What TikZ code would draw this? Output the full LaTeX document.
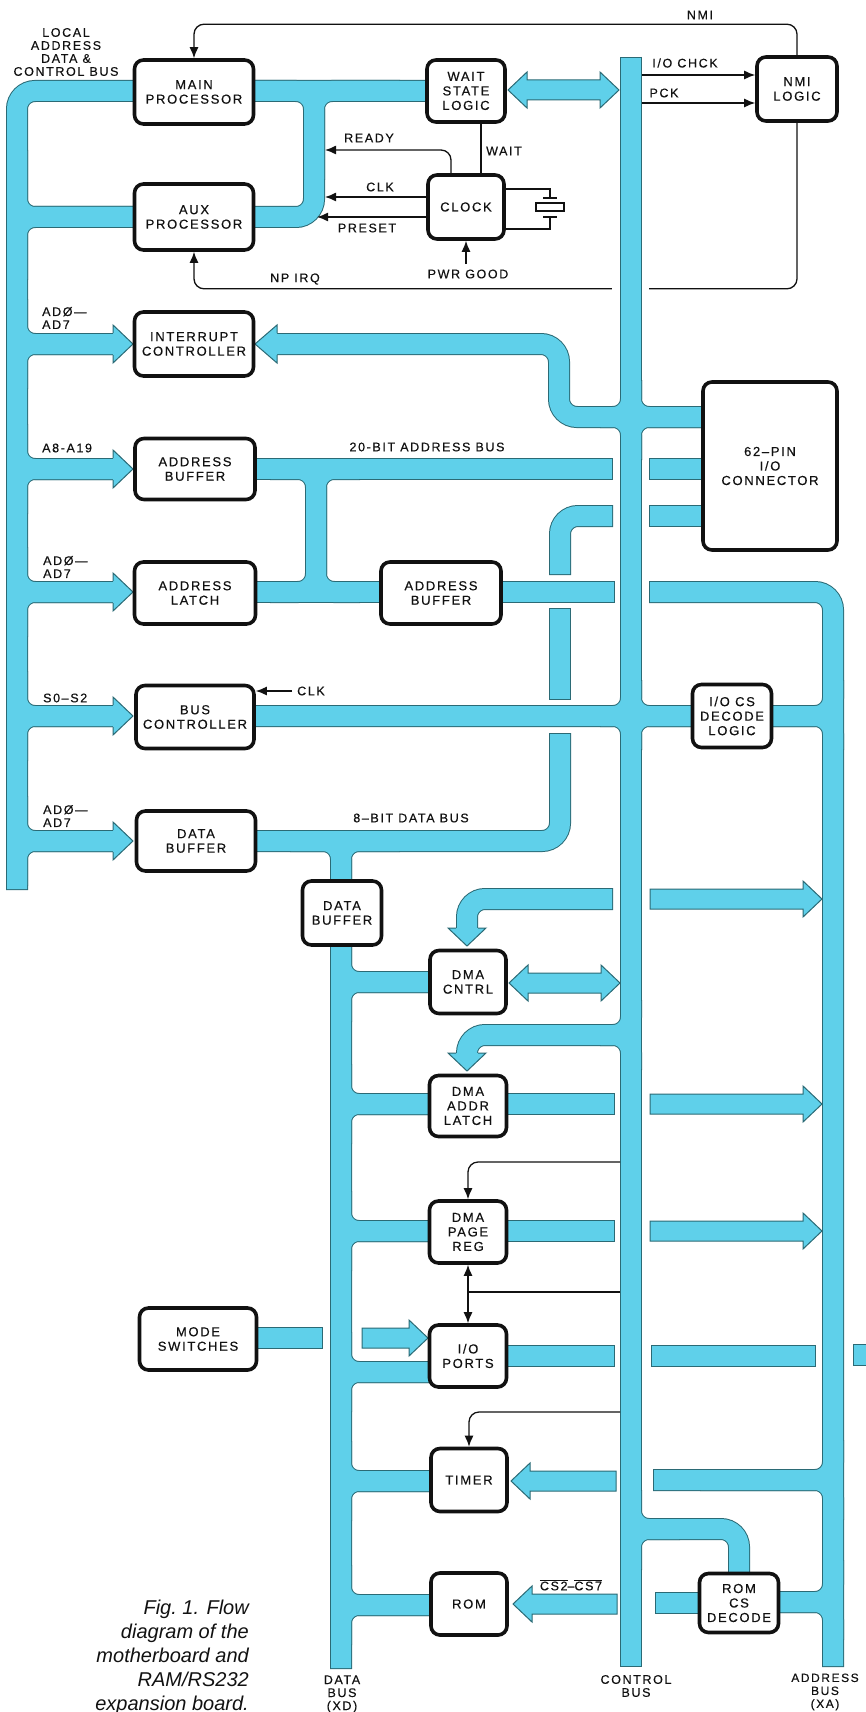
\documentclass[tikz,border=0pt]{standalone}
\usepackage{fontspec}
\setmainfont{Liberation Sans}[LetterSpace=13.0, FakeBold=0.4]
\newfontfamily\capfont{Liberation Sans}
\usetikzlibrary{arrows.meta}
\definecolor{bus}{HTML}{5FD0EA}
\definecolor{busedge}{HTML}{2B6A75}
\definecolor{ink}{HTML}{111111}
\pgfdeclarelayer{under}
\pgfdeclarelayer{bands}
\pgfsetlayers{under,bands,main}
\tikzset{
  unit/.style={draw=ink, line width=3.6pt, rounded corners=9pt, fill=white, align=center, inner sep=2pt, text=ink, font=\fontsize{13}{14.5}\selectfont},
  tag/.style={font=\fontsize{12.5}{13}\selectfont, inner sep=0pt, text=ink},
  bandedge/.style={draw=busedge, line width=22pt, rounded corners=18pt},
  bandfill/.style={draw=bus, line width=20pt, rounded corners=18pt, shorten <=1pt, shorten >=1pt},
  blockline/.style={draw=busedge, line width=1pt, line join=miter},
  sig/.style={draw=ink, line width=1.3pt, rounded corners=10pt, -{Latex[length=11pt,width=9pt]}},
  sigboth/.style={draw=ink, line width=1.3pt, {Latex[length=11pt,width=9pt]}-{Latex[length=11pt,width=9pt]}},
  wire/.style={draw=ink, line width=1.3pt},
  capt/.style={font=\capfont\itshape\fontsize{20}{24}\selectfont, align=right, inner sep=0pt, text=ink}
}
% block arrows: tail x, tip x, y
\newcommand\rblock[3]{\path[fill=bus, blockline] (#1,#3-10) -- (#2-19,#3-10) -- (#2-19,#3-18) -- (#2,#3) -- (#2-19,#3+18) -- (#2-19,#3+10) -- (#1,#3+10) -- cycle;}
\newcommand\lblock[3]{\path[fill=bus, blockline] (#1,#3-10) -- (#2+19,#3-10) -- (#2+19,#3-18) -- (#2,#3) -- (#2+19,#3+18) -- (#2+19,#3+10) -- (#1,#3+10) -- cycle;}
\newcommand\dblock[3]{\path[fill=bus, blockline] (#1,#3) -- (#1+19,#3-18) -- (#1+19,#3-10) -- (#2-19,#3-10) -- (#2-19,#3-18) -- (#2,#3) -- (#2-19,#3+18) -- (#2-19,#3+10) -- (#1+19,#3+10) -- (#1+19,#3+18) -- cycle;}
% heads at the end of a band: tip, then position across
\newcommand\rhead[2]{\fill[bus] (#1-20,#2-19) -- (#1,#2) -- (#1-20,#2+19) -- cycle;
  \draw[blockline] (#1-20,#2-11) -- (#1-20,#2-19) -- (#1,#2) -- (#1-20,#2+19) -- (#1-20,#2+11);}
\newcommand\lhead[2]{\fill[bus] (#1+22,#2-19) -- (#1,#2) -- (#1+22,#2+19) -- cycle;
  \draw[blockline] (#1+22,#2-11) -- (#1+22,#2-19) -- (#1,#2) -- (#1+22,#2+19) -- (#1+22,#2+11);}
\newcommand\dhead[2]{\fill[bus] (#1-19,#2-18) -- (#1,#2) -- (#1+19,#2-18) -- cycle;
  \draw[blockline] (#1-11,#2-18) -- (#1-19,#2-18) -- (#1,#2) -- (#1+19,#2-18) -- (#1+11,#2-18);}
% all bus bands, drawn once as edge and once as fill
\newcommand\bands[1]{%
  % local bus loop
  \draw[#1] (17,890) -- (17,91) -- (440,91);
  \draw[#1] (200,91) -- (314,91) -- (314,217) -- (200,217);
  \draw[#1] (314,180) -- (314,91) -- (400,91);
  \draw[#1] (17,150) -- (17,217) -- (150,217);
  \draw[#1] (17,280) -- (17,217) -- (150,217);
  \foreach \y in {344,469,592,716,841}{
    \draw[#1] (17,\y-45) -- (17,\y) -- (115,\y);
    \draw[#1] (17,\y+45) -- (17,\y) -- (115,\y);}
  % interrupt feed
  \draw[#1] (274,344) -- (559,344) -- (559,417) -- (631,417) -- (631,380);
  \draw[#1] (600,417) -- (631,417) -- (631,460);
  \draw[#1] (631,380) -- (631,417) -- (712,417);
  \draw[#1] (631,460) -- (631,417) -- (712,417);
  % control bus
  \draw[#1] (631,57) -- (631,1667);
  % address bus
  \draw[#1] (240,469) -- (613,469);
  \draw[#1] (270,469) -- (316,469) -- (316,592) -- (270,592);
  \draw[#1] (360,469) -- (316,469) -- (316,592) -- (360,592);
  \draw[#1] (240,592) -- (615,592);
  \draw[#1] (649,469) -- (712,469);
  % data bus up to the connector
  \draw[#1] (613,516) -- (560,516) -- (560,575);
  \draw[#1] (649,516) -- (712,516);
  \draw[#1] (560,608) -- (560,700);
  \draw[#1] (560,733) -- (560,841) -- (240,841);
  % bus controller outputs
  \draw[#1] (240,716) -- (631,716) -- (631,680);
  \draw[#1] (600,716) -- (631,716) -- (631,750);
  \draw[#1] (631,680) -- (631,716) -- (700,716);
  \draw[#1] (631,750) -- (631,716) -- (700,716);
  \draw[#1] (760,716) -- (833,716) -- (833,680);
  \draw[#1] (760,716) -- (833,716) -- (833,750);
  % XA
  \draw[#1] (649,592) -- (833,592) -- (833,1667);
  % XD
  \draw[#1] (290,841) -- (341,841) -- (341,1669);
  \draw[#1] (400,841) -- (341,841) -- (341,900);
  \foreach \y in {982,1104,1231,1372,1481,1605}{
    \draw[#1] (341,\y-40) -- (341,\y) -- (440,\y);
    \draw[#1] (341,\y+40) -- (341,\y) -- (440,\y);}
  % DMA feeds
  \draw[#1] (613,899) -- (467,899) -- (467,932);
  \draw[#1] (631,1000) -- (631,1035) -- (467,1035) -- (467,1058);
  \draw[#1] (600,1035) -- (631,1035) -- (631,1070);
  \draw[#1] (500,1104) -- (615,1104);
  \draw[#1] (500,1231) -- (615,1231);
  % mode switches, ports
  \draw[#1] (240,1338) -- (323,1338);
  \draw[#1] (500,1356) -- (615,1356);
  \draw[#1] (651,1356) -- (816,1356);
  \draw[#1] (853,1355) -- (872,1355);
  % timer, ROM select
  \draw[#1] (653,1480) -- (833,1480) -- (833,1440);
  \draw[#1] (700,1480) -- (833,1480) -- (833,1520);
  \draw[#1] (631,1490) -- (631,1529) -- (739,1529) -- (739,1580);
  \draw[#1] (631,1570) -- (631,1529) -- (680,1529);
  \draw[#1] (760,1602) -- (833,1602) -- (833,1560);
  \draw[#1] (760,1602) -- (833,1602) -- (833,1640);
  \draw[#1] (655,1603) -- (710,1603);
}

\begin{document}
\begin{tikzpicture}[x=1pt, y=-1pt]
\useasboundingbox (0,0) rectangle (866,1712);

% boxes
\node[unit, minimum width=119pt, minimum height=64pt] (mainproc) at (194,92) {MAIN\\PROCESSOR};
\node[unit, minimum width=119pt, minimum height=66pt] (auxproc) at (194,217) {AUX\\PROCESSOR};
\node[unit, minimum width=78pt, minimum height=62pt] (waitlogic) at (466,91) {WAIT\\STATE\\LOGIC};
\node[unit, minimum width=76pt, minimum height=64pt] (clock) at (466,207) {CLOCK};
\node[unit, minimum width=80pt, minimum height=64pt] (nmilogic) at (797,89) {NMI\\LOGIC};
\node[unit, minimum width=119pt, minimum height=64pt] (intctrl) at (194,344) {INTERRUPT\\CONTROLLER};
\node[unit, minimum width=120pt, minimum height=61pt] (addrbuf) at (195,469) {ADDRESS\\BUFFER};
\node[unit, minimum width=121pt, minimum height=62pt] (addrlatch) at (195,593) {ADDRESS\\LATCH};
\node[unit, minimum width=120pt, minimum height=62pt] (addrbuftwo) at (441,593) {ADDRESS\\BUFFER};
\node[unit, minimum width=118pt, minimum height=63pt] (busctrl) at (195,717) {BUS\\CONTROLLER};
\node[unit, minimum width=119pt, minimum height=60pt] (databuf) at (196,841) {DATA\\BUFFER};
\node[unit, minimum width=79pt, minimum height=64pt] (databuftwo) at (342,913) {DATA\\BUFFER};
\node[unit, minimum width=134pt, minimum height=168pt] (iocon) at (770,466) {62–PIN\\I/O\\CONNECTOR};
\node[unit, minimum width=79pt, minimum height=63pt] (iocs) at (732,716) {I/O CS\\DECODE\\LOGIC};
\node[unit, minimum width=76pt, minimum height=63pt] (dmactrl) at (468,982) {DMA\\CNTRL};
\node[unit, minimum width=77pt, minimum height=61pt] (dmalatch) at (468,1106) {DMA\\ADDR\\LATCH};
\node[unit, minimum width=77pt, minimum height=62pt] (dmapage) at (468,1232) {DMA\\PAGE\\REG};
\node[unit, minimum width=117pt, minimum height=62pt] (modesw) at (198,1339) {MODE\\SWITCHES};
\node[unit, minimum width=77pt, minimum height=62pt] (ioports) at (468,1356) {I/O\\PORTS};
\node[unit, minimum width=76pt, minimum height=63pt] (timer) at (469,1480) {TIMER};
\node[unit, minimum width=76pt, minimum height=62pt] (rom) at (469,1604) {ROM};
\node[unit, minimum width=79pt, minimum height=59pt] (romcs) at (739,1603) {ROM\\CS\\DECODE};

% buses
\begin{pgfonlayer}{bands}
\bands{bandedge}
\bands{bandfill}
\lhead{255}{344}
\foreach \y in {344,469,592,716,841}{\rhead{133}{\y}}
\dblock{508}{619}{90}
\rblock{650}{822}{899}
\dhead{467}{946}
\dblock{509}{620}{983}
\dhead{467}{1071}
\rblock{650}{822}{1104}
\rblock{650}{822}{1231}
\rblock{362}{428}{1338}
\lblock{616}{511}{1481}
\lblock{617}{513}{1604}
\end{pgfonlayer}

% signals
\begin{pgfonlayer}{under}
\draw[sig] (nmilogic.south) -- ++(0,166) -| (auxproc.south);
\fill[white] (612,280) rectangle (649,294);
\end{pgfonlayer}
\draw[sig] (nmilogic.north) -- ++(0,-31) -| (mainproc.north);
\draw[sig] (642,75) -- (nmilogic.west |- 0,75);
\draw[sig] (642,103) -- (nmilogic.west |- 0,103);
\draw[wire] (waitlogic.south -| 481,0) -- (clock.north -| 481,0);
\draw[sig] (clock.north -| 451,0) |- (325,150);
\draw[sig] (clock.west |- 0,197) -- (325,197);
\draw[sig] (clock.west |- 0,217) -- (317,217);
\draw[sig] (clock.south |- 0,264) -- (clock.south);
\draw[wire] (clock.east |- 0,189) -| (550,198);
\draw[wire] (543,198) -- (557,198);
\draw[wire] (536,203) rectangle (564,211);
\draw[wire] (543,217) -- (557,217);
\draw[wire] (550,217) |- (clock.east |- 0,229);
\draw[sig] (292,691) -- (busctrl.east |- 0,691);
\draw[sig] (620,1162) -| (dmapage.north);
\draw[sigboth] (dmapage.south) -- (ioports.north);
\draw[wire] (620,1292) -- (dmapage.south |- 0,1292);
\draw[sig] (620,1412) -| (timer.north);

% labels
\node[tag, align=center] at (66,52) {LOCAL\\ADDRESS\\DATA \&\\CONTROL BUS};
\node[tag] at (700,15) {NMI};
\node[tag] at (685,63) {I/O CHCK};
\node[tag] at (664,93) {PCK};
\node[tag] at (369,138) {READY};
\node[tag] at (504,151) {WAIT};
\node[tag] at (380,187) {CLK};
\node[tag] at (367,228) {PRESET};
\node[tag] at (468,274) {PWR GOOD};
\node[tag] at (295,279) {NP IRQ};
\node[tag, anchor=west, align=left] at (42,318) {ADØ—\\AD7};
\node[tag, anchor=west] at (42,448) {A8-A19};
\node[tag, anchor=west, align=left] at (43,567) {ADØ—\\AD7};
\node[tag] at (427,447) {20-BIT ADDRESS BUS};
\node[tag, anchor=west] at (297,691) {CLK};
\node[tag, anchor=west] at (43,698) {S0–S2};
\node[tag, anchor=west, align=left] at (43,816) {ADØ—\\AD7};
\node[tag] at (411,818) {8–BIT DATA BUS};
\node[tag] at (571,1585) {\(\overline{\mbox{CS2}}\)–\(\overline{\mbox{CS7}}\)};
\node[tag, align=center] at (342,1694) {DATA\\BUS\\(XD)};
\node[tag, align=center] at (636,1686) {CONTROL\\BUS};
\node[tag, align=center, font=\fontsize{12}{13}\selectfont] at (825,1692) {ADDRESS\\BUS\\(XA)};
\node[capt, anchor=north east] at (249,1600) {Fig.~1. Flow\\diagram of the\\motherboard and\\RAM/RS232\\expansion board.};
\end{tikzpicture}
\end{document}
